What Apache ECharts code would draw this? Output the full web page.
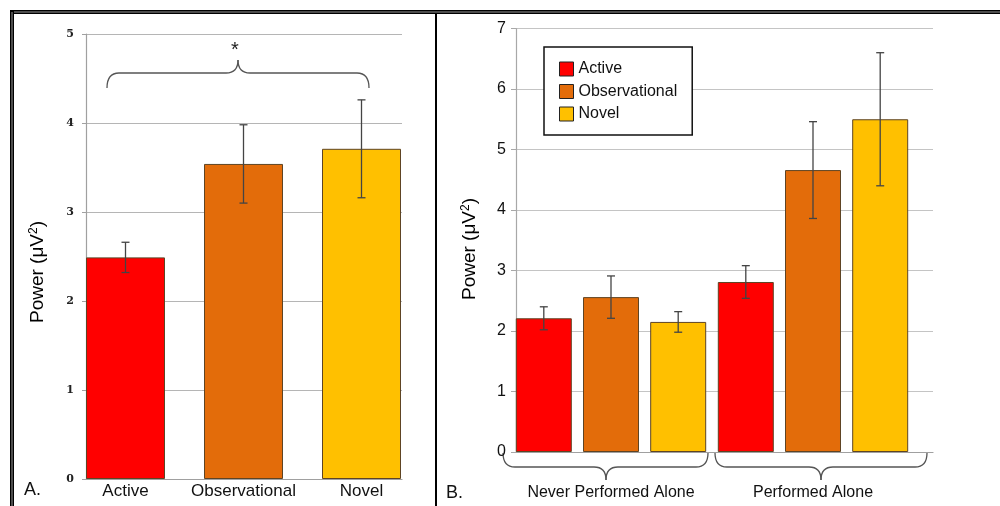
<!DOCTYPE html>
<html>
<head>
<meta charset="utf-8">
<script src="https://cdn.jsdelivr.net/npm/echarts@6/dist/echarts.min.js"></script>
<style>html,body{margin:0;padding:0;background:#fff;}#c{width:1000px;height:506px;}</style>
</head>
<body>
<div id="c"></div>
<script>
// ---- data ----
const leftCats = ['Active', 'Observational', 'Novel'];
const leftMean = [2.49, 3.54, 3.71];
const leftErr = [0.17, 0.44, 0.55];

const rightCats = ['Never Performed Alone', 'Performed Alone'];
const seriesNames = ['Active', 'Observational', 'Novel'];
const activeMean = [2.21, 2.81];
const activeErr = [0.19, 0.27];
const obsMean = [2.56, 4.66];
const obsErr = [0.35, 0.80];
const novelMean = [2.15, 5.50];
const novelErr = [0.17, 1.10];

const leftYMin = 0, leftYMax = 5, leftYStep = 1;
const rightYMin = 0, rightYMax = 7, rightYStep = 1;

const colors = ['#ff0000', '#e36c0a', '#ffc000'];

// ---- chart ----
const FONT = '"Liberation Sans", Arial, sans-serif';
const chart = echarts.init(document.getElementById('c'), null, {renderer: 'canvas'});

function errRender(offsetPx) {
  return function (params, api) {
    const x = api.value(0);
    const a = api.coord([x, api.value(2)]);
    const b = api.coord([x, api.value(1)]);
    const cx = a[0] + offsetPx;
    const cap = 4;
    const style = {stroke: '#444', lineWidth: 1.3};
    return {
      type: 'group',
      children: [
        {type: 'line', shape: {x1: cx, y1: a[1], x2: cx, y2: b[1]}, style: style},
        {type: 'line', shape: {x1: cx - cap, y1: a[1], x2: cx + cap, y2: a[1]}, style: style},
        {type: 'line', shape: {x1: cx - cap, y1: b[1], x2: cx + cap, y2: b[1]}, style: style}
      ]
    };
  };
}
function errData(mean, err) {
  return mean.map((m, i) => [i, m - err[i], m + err[i]]);
}

const barBorder = {borderColor: '#5e4424', borderWidth: 1};
const rightBarW = 56, rightGapPct = 20;
const step = rightBarW * (1 + rightGapPct / 100);

const rightSeriesData = [[activeMean, activeErr], [obsMean, obsErr], [novelMean, novelErr]];

const series = [
  {
    type: 'bar', xAxisIndex: 1, yAxisIndex: 1, barWidth: 79,
    data: leftMean.map((v, i) => ({value: v, itemStyle: {color: colors[i]}})),
    itemStyle: barBorder, silent: true
  },
  {
    type: 'custom', name: 'errLeft', xAxisIndex: 1, yAxisIndex: 1, z: 5,
    renderItem: errRender(0), data: errData(leftMean, leftErr), encode: {x: 0, y: [1, 2]}
  }
];
rightSeriesData.forEach((d, i) => {
  series.push({
    type: 'bar', name: seriesNames[i], xAxisIndex: 3, yAxisIndex: 3,
    barWidth: rightBarW, barGap: rightGapPct + '%',
    data: d[0], itemStyle: Object.assign({color: colors[i]}, barBorder)
  });
});
rightSeriesData.forEach((d, i) => {
  series.push({
    type: 'custom', name: 'errRight' + i, xAxisIndex: 3, yAxisIndex: 3, z: 5,
    renderItem: errRender((i - 1) * step), data: errData(d[0], d[1]), encode: {x: 0, y: [1, 2]}
  });
});

function bracket(x1, x2, xc, yEnd, yLine, yTip) {
  const r = 12;
  const st = {stroke: '#555', lineWidth: 1.3, fill: null};
  return {
    type: 'group', z: 50,
    children: [
      {type: 'bezierCurve', shape: {x1: x1, y1: yEnd, cpx1: x1, cpy1: yLine, x2: x1 + r, y2: yLine}, style: st},
      {type: 'line', shape: {x1: x1 + r, y1: yLine, x2: xc - r, y2: yLine}, style: st},
      {type: 'bezierCurve', shape: {x1: xc - r, y1: yLine, cpx1: xc, cpy1: yLine, x2: xc, y2: yTip}, style: st},
      {type: 'bezierCurve', shape: {x1: xc, y1: yTip, cpx1: xc, cpy1: yLine, x2: xc + r, y2: yLine}, style: st},
      {type: 'line', shape: {x1: xc + r, y1: yLine, x2: x2 - r, y2: yLine}, style: st},
      {type: 'bezierCurve', shape: {x1: x2 - r, y1: yLine, cpx1: x2, cpy1: yLine, x2: x2, y2: yEnd}, style: st}
    ]
  };
}

const nameRich = {
  p: {fontSize: 19, fontFamily: FONT, color: '#111'},
  s: {fontSize: 12, fontFamily: FONT, color: '#111', padding: [0, 0, 9, 0]}
};

const option = {
  backgroundColor: '#fff',
  animation: false,
  grid: [
    {left: 86, top: 34, width: 316, height: 445},
    {left: 66.5, top: 34, width: 354, height: 445},
    {left: 516, top: 28.5, width: 417, height: 423.5},
    {left: 510, top: 28.5, width: 404, height: 423.5}
  ],
  xAxis: [
    {gridIndex: 0, type: 'value', min: 0, max: 1, axisLine: {show: true, lineStyle: {color: '#a0a0a0', width: 1.2}},
      axisTick: {show: false}, axisLabel: {show: false}, splitLine: {show: false}},
    {gridIndex: 1, type: 'category', data: leftCats, axisLine: {show: false}, axisTick: {show: false},
      axisLabel: {interval: 0, hideOverlap: false, fontSize: 17, fontFamily: FONT, color: '#111', margin: 4}},
    {gridIndex: 2, type: 'value', min: 0, max: 1, axisLine: {show: true, lineStyle: {color: '#a0a0a0', width: 1.2}},
      axisTick: {show: false}, axisLabel: {show: false}, splitLine: {show: false}},
    {gridIndex: 3, type: 'category', data: rightCats, axisLine: {show: false}, axisTick: {show: false},
      axisLabel: {interval: 0, hideOverlap: false, fontSize: 16, fontFamily: FONT, color: '#111', margin: 33}}
  ],
  yAxis: [
    {gridIndex: 0, type: 'value', min: leftYMin, max: leftYMax, interval: leftYStep,
      axisLine: {show: true, lineStyle: {color: '#a0a0a0', width: 1.2}},
      axisTick: {show: true, length: 4, lineStyle: {color: '#a0a0a0'}},
      axisLabel: {fontSize: 11, fontWeight: 'bold', fontFamily: '"DejaVu Serif", "Liberation Serif", serif', color: '#222', margin: 12},
      splitLine: {show: true, lineStyle: {color: '#b5b5b5', width: 1.2}}},
    {gridIndex: 1, type: 'value', min: leftYMin, max: leftYMax, show: false},
    {gridIndex: 2, type: 'value', min: rightYMin, max: rightYMax, interval: rightYStep,
      axisLine: {show: true, lineStyle: {color: '#a8a8a8', width: 1.2}},
      axisTick: {show: true, length: 5, lineStyle: {color: '#a8a8a8'}},
      axisLabel: {fontSize: 16, fontFamily: FONT, color: '#111', margin: 10},
      splitLine: {show: true, lineStyle: {color: '#c4c4c4', width: 1.2}}},
    {gridIndex: 3, type: 'value', min: rightYMin, max: rightYMax, show: false}
  ],
  legend: {
    left: 544, top: 47, orient: 'vertical', padding: [14, 15, 13, 15],
    itemWidth: 14, itemHeight: 14, itemGap: 6.5, selectedMode: false,
    borderColor: '#111', borderWidth: 1.5, backgroundColor: '#fff',
    textStyle: {fontSize: 16, fontFamily: FONT, color: '#111'},
    itemStyle: {borderColor: '#222', borderWidth: 1},
    data: seriesNames.map(n => ({name: n, icon: 'rect'}))
  },
  series: series,
  graphic: [
    // frame
    {type: 'rect', shape: {x: 10, y: 10, width: 990, height: 4}, style: {fill: '#000'}, z: 100},
    {type: 'line', shape: {x1: 14, y1: 12, x2: 1000, y2: 12}, style: {stroke: '#9a9a9a', lineWidth: 1}, z: 101},
    {type: 'rect', shape: {x: 10, y: 10, width: 4, height: 496}, style: {fill: '#000'}, z: 100},
    {type: 'line', shape: {x1: 12, y1: 12, x2: 12, y2: 506}, style: {stroke: '#9a9a9a', lineWidth: 1}, z: 101},
    {type: 'rect', shape: {x: 435, y: 13, width: 2, height: 493}, style: {fill: '#000'}, z: 100},
    // left bracket and asterisk
    bracket(107, 369, 238, 88, 73, 60),
    {type: 'text', left: 231, top: 40, style: {text: '*', fontSize: 20, fontFamily: FONT, fill: '#222'}, z: 50},
    // bottom brackets (right panel)
    bracket(503, 708, 606, 453, 467, 480),
    bracket(715, 927, 821, 453, 467, 480),
    // panel letters
    {type: 'text', left: 24, top: 481, style: {text: 'A.', fontSize: 18, fontFamily: FONT, fill: '#111'}, z: 50},
    {type: 'text', left: 446, top: 484, style: {text: 'B.', fontSize: 18, fontFamily: FONT, fill: '#111'}, z: 50},
    // axis names
    {type: 'text', x: 38, y: 272, rotation: Math.PI / 2, z: 50,
      style: {text: '{p|Power (μV}{s|2}{p|)}', rich: nameRich, align: 'center', verticalAlign: 'middle'}},
    {type: 'text', x: 470, y: 249, rotation: Math.PI / 2, z: 50,
      style: {text: '{p|Power (μV}{s|2}{p|)}', rich: nameRich, align: 'center', verticalAlign: 'middle'}}
  ]
};
chart.setOption(option);
</script>
</body>
</html>
